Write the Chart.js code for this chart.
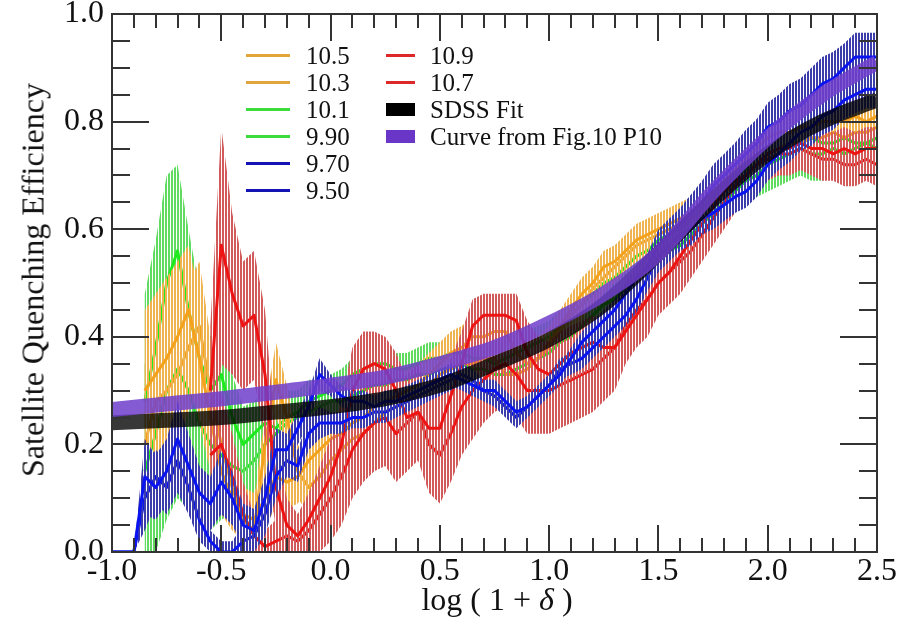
<!DOCTYPE html>
<html>
<head>
<meta charset="utf-8">
<script src="https://cdn.jsdelivr.net/npm/chart.js@4.4.1/dist/chart.umd.min.js"></script>
<style>
  html, body { margin: 0; padding: 0; background: #fff; }
  #wrap { position: relative; width: 908px; height: 620px; font-family: 'Liberation Serif', 'Times New Roman', serif; color: #111; }
  #chart { position: absolute; left: 0; top: 0; }
  .ytitle { position: absolute; left: 33px; top: 280px; transform: translate(-50%, -50%) rotate(-90deg); white-space: nowrap; font-size: 32px; }
  .xtitle { position: absolute; left: 497px; top: 599px; transform: translate(-50%, -50%); white-space: nowrap; font-size: 32px; }
  .lg-mark { position: absolute; }
  .lg-text { position: absolute; font-size: 25px; line-height: 27px; white-space: nowrap; }
</style>
</head>
<body>
<div id="wrap">
  <canvas id="chart" width="908" height="620"></canvas>
  <div class="ytitle">Satellite Quenching Efficiency</div>
  <div class="xtitle">log ( 1 + <i>δ</i> )</div>
  <div id="legend"></div>
</div>
<script>
// log(1+delta) grid shared by all the mass bins
const xVals = [
  -1.0, -0.95, -0.9, -0.85, -0.8, -0.75, -0.7, -0.65, -0.6, -0.55,
  -0.5, -0.45, -0.4, -0.35, -0.3, -0.25, -0.2, -0.15, -0.1, -0.05,
  0.0, 0.05, 0.1, 0.15, 0.2, 0.25, 0.3, 0.35, 0.4, 0.45,
  0.5, 0.55, 0.6, 0.65, 0.7, 0.75, 0.8, 0.85, 0.9, 0.95,
  1.0, 1.05, 1.1, 1.15, 1.2, 1.25, 1.3, 1.35, 1.4, 1.45,
  1.5, 1.55, 1.6, 1.65, 1.7, 1.75, 1.8, 1.85, 1.9, 1.95,
  2.0, 2.05, 2.1, 2.15, 2.2, 2.25, 2.3, 2.35, 2.4, 2.45,
  2.5
];

// quenching efficiency per stellar mass bin, with 1-sigma errors
const q105 = [
  null, null, null, 0.30, 0.33, 0.36, 0.40, 0.45, 0.36, 0.25,
  0.15, 0.10, 0.07, 0.06, 0.10, 0.14, 0.13, 0.14, 0.17, 0.19,
  0.21, 0.22, 0.24, 0.25, 0.27, 0.28, 0.29, 0.30, 0.31, 0.33,
  0.35, 0.37, 0.38, 0.40, 0.40, 0.41, 0.41, 0.37, 0.35, 0.36,
  0.39, 0.42, 0.45, 0.48, 0.50, 0.53, 0.54, 0.56, 0.58, 0.59,
  0.60, 0.61, 0.62, 0.63, 0.65, 0.67, 0.69, 0.71, 0.73, 0.75,
  0.77, 0.78, 0.78, 0.79, 0.79, 0.80, 0.80, 0.80, 0.81, 0.80,
  0.81
];
const e105 = [
  null, null, null, 0.15, 0.15, 0.15, 0.14, 0.12, 0.12, 0.10,
  0.08, 0.06, 0.05, 0.05, 0.05, 0.06, 0.05, 0.05, 0.05, 0.04,
  0.04, 0.04, 0.04, 0.04, 0.04, 0.04, 0.04, 0.04, 0.04, 0.04,
  0.04, 0.04, 0.04, 0.04, 0.04, 0.04, 0.04, 0.04, 0.04, 0.04,
  0.03, 0.03, 0.03, 0.03, 0.03, 0.03, 0.03, 0.03, 0.03, 0.03,
  0.03, 0.03, 0.03, 0.03, 0.03, 0.03, 0.03, 0.03, 0.03, 0.03,
  0.04, 0.04, 0.04, 0.04, 0.04, 0.04, 0.04, 0.04, 0.04, 0.04,
  0.04
];
const q103 = [
  null, null, null, 0.20, 0.28, 0.30, 0.33, 0.38, 0.42, 0.30,
  0.20, 0.12, 0.06, 0.04, 0.20, 0.32, 0.25, 0.15, 0.12, 0.14,
  0.17, 0.19, 0.21, 0.22, 0.24, 0.26, 0.27, 0.28, 0.30, 0.31,
  0.33, 0.34, 0.35, 0.35, 0.36, 0.36, 0.33, 0.33, 0.34, 0.36,
  0.38, 0.41, 0.44, 0.46, 0.49, 0.51, 0.53, 0.55, 0.57, 0.58,
  0.59, 0.60, 0.61, 0.62, 0.63, 0.65, 0.67, 0.68, 0.70, 0.72,
  0.74, 0.75, 0.76, 0.76, 0.77, 0.77, 0.78, 0.77, 0.78, 0.78,
  0.79
];
const e103 = [
  null, null, null, 0.15, 0.15, 0.15, 0.14, 0.12, 0.12, 0.10,
  0.08, 0.06, 0.05, 0.05, 0.06, 0.07, 0.06, 0.05, 0.05, 0.04,
  0.04, 0.04, 0.04, 0.04, 0.04, 0.04, 0.04, 0.04, 0.04, 0.04,
  0.04, 0.04, 0.04, 0.04, 0.04, 0.04, 0.04, 0.04, 0.04, 0.04,
  0.03, 0.03, 0.03, 0.03, 0.03, 0.03, 0.03, 0.03, 0.03, 0.03,
  0.03, 0.03, 0.03, 0.03, 0.03, 0.03, 0.03, 0.03, 0.03, 0.03,
  0.04, 0.04, 0.04, 0.04, 0.04, 0.04, 0.04, 0.04, 0.04, 0.04,
  0.04
];
const q101 = [
  null, null, null, 0.28, 0.38, 0.50, 0.56, 0.45, 0.36, 0.30,
  0.33, 0.25, 0.20, 0.22, 0.24, 0.23, 0.25, 0.26, 0.28, 0.29,
  0.30, 0.31, 0.33, 0.34, 0.35, 0.35, 0.34, 0.34, 0.35, 0.36,
  0.36, 0.37, 0.37, 0.36, 0.36, 0.35, 0.36, 0.37, 0.38, 0.39,
  0.40, 0.42, 0.44, 0.46, 0.48, 0.50, 0.51, 0.53, 0.55, 0.56,
  0.58, 0.59, 0.60, 0.62, 0.64, 0.66, 0.68, 0.70, 0.71, 0.72,
  0.74, 0.75, 0.76, 0.76, 0.77, 0.76, 0.76, 0.77, 0.76, 0.76,
  0.77
];
const e101 = [
  null, null, null, 0.20, 0.20, 0.20, 0.16, 0.15, 0.13, 0.10,
  0.10, 0.08, 0.07, 0.06, 0.06, 0.05, 0.05, 0.04, 0.04, 0.03,
  0.03, 0.03, 0.03, 0.03, 0.03, 0.03, 0.03, 0.03, 0.03, 0.03,
  0.03, 0.03, 0.03, 0.03, 0.03, 0.03, 0.03, 0.03, 0.03, 0.03,
  0.03, 0.03, 0.03, 0.03, 0.03, 0.03, 0.03, 0.03, 0.03, 0.03,
  0.03, 0.03, 0.03, 0.035, 0.04, 0.04, 0.04, 0.04, 0.04, 0.04,
  0.05, 0.05, 0.05, 0.05, 0.05, 0.05, 0.05, 0.05, 0.05, 0.05,
  0.05
];
const q990 = [
  null, null, null, 0.15, 0.22, 0.30, 0.34, 0.30, 0.24, 0.20,
  0.18, 0.16, 0.15, 0.17, 0.20, 0.22, 0.24, 0.25, 0.26, 0.27,
  0.28, 0.28, 0.29, 0.30, 0.31, 0.31, 0.32, 0.32, 0.33, 0.33,
  0.34, 0.34, 0.35, 0.34, 0.34, 0.33, 0.33, 0.34, 0.35, 0.36,
  0.37, 0.39, 0.40, 0.42, 0.44, 0.46, 0.47, 0.49, 0.51, 0.53,
  0.55, 0.56, 0.57, 0.59, 0.61, 0.63, 0.65, 0.67, 0.69, 0.70,
  0.72, 0.73, 0.74, 0.75, 0.74, 0.74, 0.75, 0.74, 0.75, 0.76,
  0.75
];
const e990 = [
  null, null, null, 0.20, 0.22, 0.24, 0.24, 0.22, 0.20, 0.16,
  0.12, 0.09, 0.07, 0.06, 0.05, 0.05, 0.04, 0.04, 0.04, 0.03,
  0.03, 0.03, 0.03, 0.03, 0.03, 0.03, 0.03, 0.03, 0.03, 0.03,
  0.03, 0.03, 0.03, 0.03, 0.03, 0.03, 0.03, 0.03, 0.03, 0.03,
  0.03, 0.03, 0.03, 0.03, 0.03, 0.03, 0.03, 0.03, 0.03, 0.03,
  0.03, 0.03, 0.03, 0.035, 0.04, 0.04, 0.04, 0.04, 0.04, 0.04,
  0.05, 0.05, 0.05, 0.05, 0.05, 0.05, 0.05, 0.05, 0.05, 0.05,
  0.05
];
const q970 = [
  0, 0, 0, 0.14, 0.12, 0.15, 0.21, 0.16, 0.11, 0.09,
  0.13, 0.10, 0.05, 0.04, 0.10, 0.19, 0.19, 0.23, 0.27, 0.33,
  0.31, 0.29, 0.28, 0.28, 0.27, 0.28, 0.28, 0.29, 0.30, 0.31,
  0.32, 0.33, 0.32, 0.31, 0.30, 0.30, 0.28, 0.26, 0.27, 0.29,
  0.31, 0.33, 0.36, 0.39, 0.41, 0.43, 0.45, 0.48, 0.51, 0.53,
  0.57, 0.59, 0.61, 0.63, 0.65, 0.68, 0.70, 0.72, 0.74, 0.76,
  0.79, 0.80, 0.82, 0.83, 0.85, 0.87, 0.88, 0.90, 0.92, 0.92,
  0.92
];
const e970 = [
  0, 0, 0, 0.07, 0.06, 0.06, 0.07, 0.06, 0.05, 0.05,
  0.06, 0.05, 0.04, 0.04, 0.04, 0.04, 0.03, 0.03, 0.03, 0.03,
  0.02, 0.02, 0.02, 0.02, 0.02, 0.02, 0.02, 0.02, 0.02, 0.02,
  0.02, 0.02, 0.02, 0.02, 0.02, 0.02, 0.02, 0.02, 0.02, 0.02,
  0.02, 0.02, 0.02, 0.02, 0.02, 0.02, 0.02, 0.02, 0.025, 0.025,
  0.03, 0.03, 0.03, 0.035, 0.04, 0.04, 0.04, 0.04, 0.045, 0.045,
  0.045, 0.05, 0.05, 0.05, 0.05, 0.05, 0.05, 0.045, 0.045, 0.045,
  0.045
];
const q950 = [
  0, 0, 0, 0.10, 0.14, 0.12, 0.17, 0.12, 0.06, 0.02,
  0.00, 0.00, 0.02, 0.03, 0.07, 0.14, 0.17, 0.16, 0.22, 0.24,
  0.24, 0.24, 0.25, 0.25, 0.26, 0.26, 0.27, 0.28, 0.29, 0.30,
  0.31, 0.32, 0.33, 0.32, 0.30, 0.29, 0.27, 0.25, 0.27, 0.29,
  0.31, 0.34, 0.35, 0.36, 0.38, 0.40, 0.42, 0.44, 0.47, 0.51,
  0.55, 0.57, 0.59, 0.60, 0.62, 0.63, 0.645, 0.66, 0.67, 0.69,
  0.72, 0.74, 0.76, 0.78, 0.79, 0.81, 0.82, 0.84, 0.85, 0.86,
  0.86
];
const e950 = [
  0, 0, 0, 0.06, 0.05, 0.05, 0.06, 0.05, 0.04, 0.02,
  0.02, 0.02, 0.03, 0.03, 0.04, 0.04, 0.03, 0.03, 0.03, 0.03,
  0.02, 0.02, 0.02, 0.02, 0.02, 0.02, 0.02, 0.02, 0.02, 0.02,
  0.02, 0.02, 0.02, 0.02, 0.02, 0.02, 0.02, 0.02, 0.02, 0.02,
  0.02, 0.02, 0.02, 0.02, 0.02, 0.02, 0.02, 0.02, 0.025, 0.025,
  0.03, 0.03, 0.03, 0.03, 0.03, 0.03, 0.03, 0.03, 0.03, 0.03,
  0.03, 0.03, 0.035, 0.035, 0.035, 0.035, 0.035, 0.035, 0.035, 0.035,
  0.035
];
const q109 = [
  null, null, null, null, null, null, null, null, null, 0.30,
  0.57, 0.48, 0.42, 0.44, 0.33, 0.12, 0.05, 0.03, 0.06, 0.10,
  0.14, 0.20, 0.30, 0.34, 0.35, 0.34, 0.30, 0.25, 0.26, 0.23,
  0.23, 0.29, 0.35, 0.42, 0.44, 0.44, 0.44, 0.43, 0.37, 0.34,
  0.33, 0.35, 0.37, 0.38, 0.39, 0.38, 0.38, 0.41, 0.44, 0.47,
  0.50, 0.52, 0.55, 0.58, 0.61, 0.64, 0.67, 0.69, 0.70, 0.72,
  0.74, 0.75, 0.75, 0.76, 0.75, 0.75, 0.74, 0.75, 0.74, 0.75,
  0.75
];
const e109 = [
  null, null, null, null, null, null, null, null, null, 0.12,
  0.22, 0.15, 0.12, 0.12, 0.12, 0.08, 0.05, 0.04, 0.05, 0.06,
  0.07, 0.08, 0.08, 0.07, 0.06, 0.06, 0.07, 0.07, 0.07, 0.07,
  0.07, 0.07, 0.06, 0.05, 0.04, 0.04, 0.04, 0.05, 0.06, 0.06,
  0.06, 0.06, 0.05, 0.05, 0.05, 0.05, 0.05, 0.05, 0.05, 0.05,
  0.05, 0.05, 0.05, 0.05, 0.05, 0.05, 0.04, 0.04, 0.04, 0.04,
  0.04, 0.04, 0.04, 0.04, 0.04, 0.04, 0.04, 0.04, 0.04, 0.04,
  0.04
];
const q107 = [
  null, null, null, null, null, null, null, null, null, 0.18,
  0.20, 0.14, 0.07, 0.03, 0.01, 0.02, 0.03, 0.02, 0.04, 0.07,
  0.10, 0.14, 0.19, 0.22, 0.24, 0.25, 0.22, 0.24, 0.26, 0.20,
  0.18, 0.22, 0.27, 0.30, 0.32, 0.34, 0.35, 0.33, 0.30, 0.30,
  0.30, 0.31, 0.32, 0.33, 0.34, 0.36, 0.38, 0.42, 0.45, 0.47,
  0.50, 0.52, 0.54, 0.56, 0.59, 0.62, 0.65, 0.68, 0.70, 0.72,
  0.73, 0.74, 0.74, 0.75, 0.74, 0.73, 0.73, 0.72, 0.72, 0.73,
  0.72
];
const e107 = [
  null, null, null, null, null, null, null, null, null, 0.10,
  0.10, 0.08, 0.06, 0.04, 0.03, 0.04, 0.05, 0.05, 0.06, 0.07,
  0.08, 0.09, 0.09, 0.09, 0.09, 0.09, 0.09, 0.09, 0.09, 0.09,
  0.09, 0.09, 0.09, 0.09, 0.08, 0.08, 0.08, 0.08, 0.08, 0.08,
  0.08, 0.08, 0.08, 0.08, 0.08, 0.08, 0.08, 0.07, 0.07, 0.07,
  0.06, 0.06, 0.06, 0.05, 0.05, 0.05, 0.05, 0.05, 0.05, 0.05,
  0.04, 0.04, 0.04, 0.04, 0.04, 0.04, 0.04, 0.04, 0.04, 0.04,
  0.04
];

// smooth reference relations
const fitX = [-1.0, -0.75, -0.5, -0.25, 0.0, 0.25, 0.5, 0.75, 1.0, 1.25, 1.5, 1.75, 2.0, 2.25, 2.5];
const sdssFit = [0.240, 0.245, 0.250, 0.260, 0.270, 0.285, 0.310, 0.350, 0.395, 0.460, 0.555, 0.655, 0.740, 0.800, 0.840];
const p10Curve = [0.265, 0.275, 0.285, 0.297, 0.310, 0.325, 0.350, 0.380, 0.425, 0.480, 0.555, 0.670, 0.770, 0.850, 0.910];

const xTickLabels = [-1.0, -0.5, 0.0, 0.5, 1.0, 1.5, 2.0, 2.5];
const yTickLabels = [0.0, 0.2, 0.4, 0.6, 0.8, 1.0];

const serif = "'Liberation Serif', 'Times New Roman', serif";

const pts = (xs, ys) => xs.map((x, i) => ({ x: x, y: ys[i] }));

const palette = {
  orange: { line: '#F4A11C', bar: '#EFB450', key: '#E2A53C' },
  green:  { line: '#1EEB1E', bar: '#5FDC5F', key: '#3CDC3C' },
  blue:   { line: '#0A14F0', bar: '#3C3CAA', key: '#1414B4' },
  red:    { line: '#EE1414', bar: '#D25A5A', key: '#DC2828' }
};

function binSet(label, vals, errs, c, order) {
  return {
    label: label,
    data: pts(xVals, vals),
    errors: errs,
    borderColor: palette[c].line,
    barColor: palette[c].bar,
    keyColor: palette[c].key,
    borderWidth: 3,
    pointRadius: 0,
    tension: 0,
    spanGaps: false,
    clip: 0,
    order: order
  };
}

const datasets = [
  {
    label: 'Curve from Fig.10 P10',
    data: pts(fitX, p10Curve),
    borderColor: 'rgba(112, 62, 204, 0.85)',
    keyColor: '#6A36C8',
    box: true,
    borderWidth: 15,
    pointRadius: 0,
    cubicInterpolationMode: 'monotone',
    clip: 0,
    order: 0
  },
  {
    label: 'SDSS Fit',
    data: pts(fitX, sdssFit),
    borderColor: 'rgba(0, 0, 0, 0.78)',
    keyColor: '#000',
    box: true,
    borderWidth: 15,
    pointRadius: 0,
    cubicInterpolationMode: 'monotone',
    clip: 0,
    order: 1
  },
  binSet('9.70', q970, e970, 'blue', 2),
  binSet('9.50', q950, e950, 'blue', 3),
  binSet('10.9', q109, e109, 'red', 4),
  binSet('10.7', q107, e107, 'red', 5),
  binSet('10.5', q105, e105, 'orange', 6),
  binSet('10.3', q103, e103, 'orange', 7),
  binSet('10.1', q101, e101, 'green', 8),
  binSet('9.90', q990, e990, 'green', 9)
];

// vertical error bars, packed as a striped band under each line
function stripes(ctx, color) {
  const c = document.createElement('canvas');
  c.width = 3; c.height = 1;
  const g = c.getContext('2d');
  g.fillStyle = color;
  g.fillRect(0, 0, 2, 1);
  return ctx.createPattern(c, 'repeat');
}

const errorBars = {
  id: 'errorBars',
  beforeDatasetDraw(chart, args) {
    const ds = chart.data.datasets[args.index];
    if (!ds.errors) return;
    const { ctx, chartArea: a } = chart;
    const y = chart.scales.y;
    const seg = [];
    ds.data.forEach((d, i) => {
      if (d.y == null) return;
      const e = ds.errors[i];
      seg.push([args.meta.data[i].x, y.getPixelForValue(d.y + e), y.getPixelForValue(d.y - e)]);
    });
    ctx.save();
    ctx.beginPath();
    ctx.rect(a.left, a.top, a.right - a.left, a.bottom - a.top);
    ctx.clip();
    ctx.beginPath();
    seg.forEach((p, k) => k ? ctx.lineTo(p[0], p[1]) : ctx.moveTo(p[0], p[1]));
    for (let k = seg.length - 1; k >= 0; k--) ctx.lineTo(seg[k][0], seg[k][2]);
    ctx.closePath();
    ctx.fillStyle = stripes(ctx, ds.barColor);
    ctx.fill();
    ctx.restore();
  }
};

// box frame with inward ticks on all four sides
const frame = {
  id: 'frame',
  afterDatasetsDraw(chart) {
    const { ctx, chartArea: a, scales: { x, y } } = chart;
    ctx.save();
    ctx.strokeStyle = '#333';
    ctx.lineWidth = 2;
    ctx.beginPath();
    for (let k = 0; k <= 35; k++) {
      const v = -1 + k * 0.1;
      const px = Math.round(x.getPixelForValue(v));
      const len = k % 5 === 0 ? 27 : 14;
      ctx.moveTo(px, a.bottom); ctx.lineTo(px, a.bottom - len);
      ctx.moveTo(px, a.top); ctx.lineTo(px, a.top + len);
    }
    for (let k = 0; k <= 20; k++) {
      const py = Math.round(y.getPixelForValue(k * 0.05));
      const len = k % 4 === 0 ? 37 : 18;
      ctx.moveTo(a.left, py); ctx.lineTo(a.left + len, py);
      ctx.moveTo(a.right, py); ctx.lineTo(a.right - len, py);
    }
    ctx.stroke();
    ctx.strokeRect(a.left, a.top, a.right - a.left, a.bottom - a.top);
    ctx.restore();
  }
};

new Chart(document.getElementById('chart'), {
  type: 'line',
  data: { datasets: datasets },
  plugins: [errorBars, frame],
  options: {
    responsive: false,
    animation: false,
    devicePixelRatio: 1,
    layout: { padding: { left: 0, right: 31, top: 14, bottom: 0 } },
    plugins: { legend: { display: false }, tooltip: { enabled: false } },
    elements: { line: { borderJoinStyle: 'round' } },
    scales: {
      x: {
        type: 'linear', min: -1, max: 2.5,
        grid: { display: false, drawTicks: false },
        border: { display: false },
        afterBuildTicks: s => { s.ticks = xTickLabels.map(v => ({ value: v })); },
        ticks: { padding: 0, color: '#111', maxRotation: 0, autoSkip: false,
                 font: { family: serif, size: 32 }, callback: v => v.toFixed(1) },
        afterFit: s => { s.height = 68; s.paddingLeft = 0; s.paddingRight = 0; }
      },
      y: {
        min: 0, max: 1,
        grid: { display: false, drawTicks: false },
        border: { display: false },
        afterBuildTicks: s => { s.ticks = yTickLabels.map(v => ({ value: v })); },
        ticks: { padding: 8, color: '#111', font: { family: serif, size: 32 },
                 callback: v => v.toFixed(1) },
        afterFit: s => { s.width = 112; s.paddingTop = 0; s.paddingBottom = 0; }
      }
    }
  }
});

// two-column key built from the datasets
const legendCols = [
  { names: ['10.5', '10.3', '10.1', '9.90', '9.70', '9.50'], lineX: 246, lineW: 44, textX: 306 },
  { names: ['10.9', '10.7', 'SDSS Fit', 'Curve from Fig.10 P10'], lineX: 386, lineW: 29, textX: 430 }
];
const legendEl = document.getElementById('legend');
legendCols.forEach(col => {
  col.names.forEach((name, r) => {
    const ds = datasets.find(d => d.label === name);
    const cy = 55 + r * 27;
    const h = ds.box ? 13 : 3;
    const mark = document.createElement('div');
    mark.className = 'lg-mark';
    mark.style.left = col.lineX + 'px';
    mark.style.width = col.lineW + 'px';
    mark.style.top = (cy - h / 2) + 'px';
    mark.style.height = h + 'px';
    mark.style.background = ds.keyColor;
    legendEl.appendChild(mark);
    const t = document.createElement('div');
    t.className = 'lg-text';
    t.style.left = col.textX + 'px';
    t.style.top = (cy - 13.5) + 'px';
    t.textContent = name;
    legendEl.appendChild(t);
  });
});
</script>
</body>
</html>
